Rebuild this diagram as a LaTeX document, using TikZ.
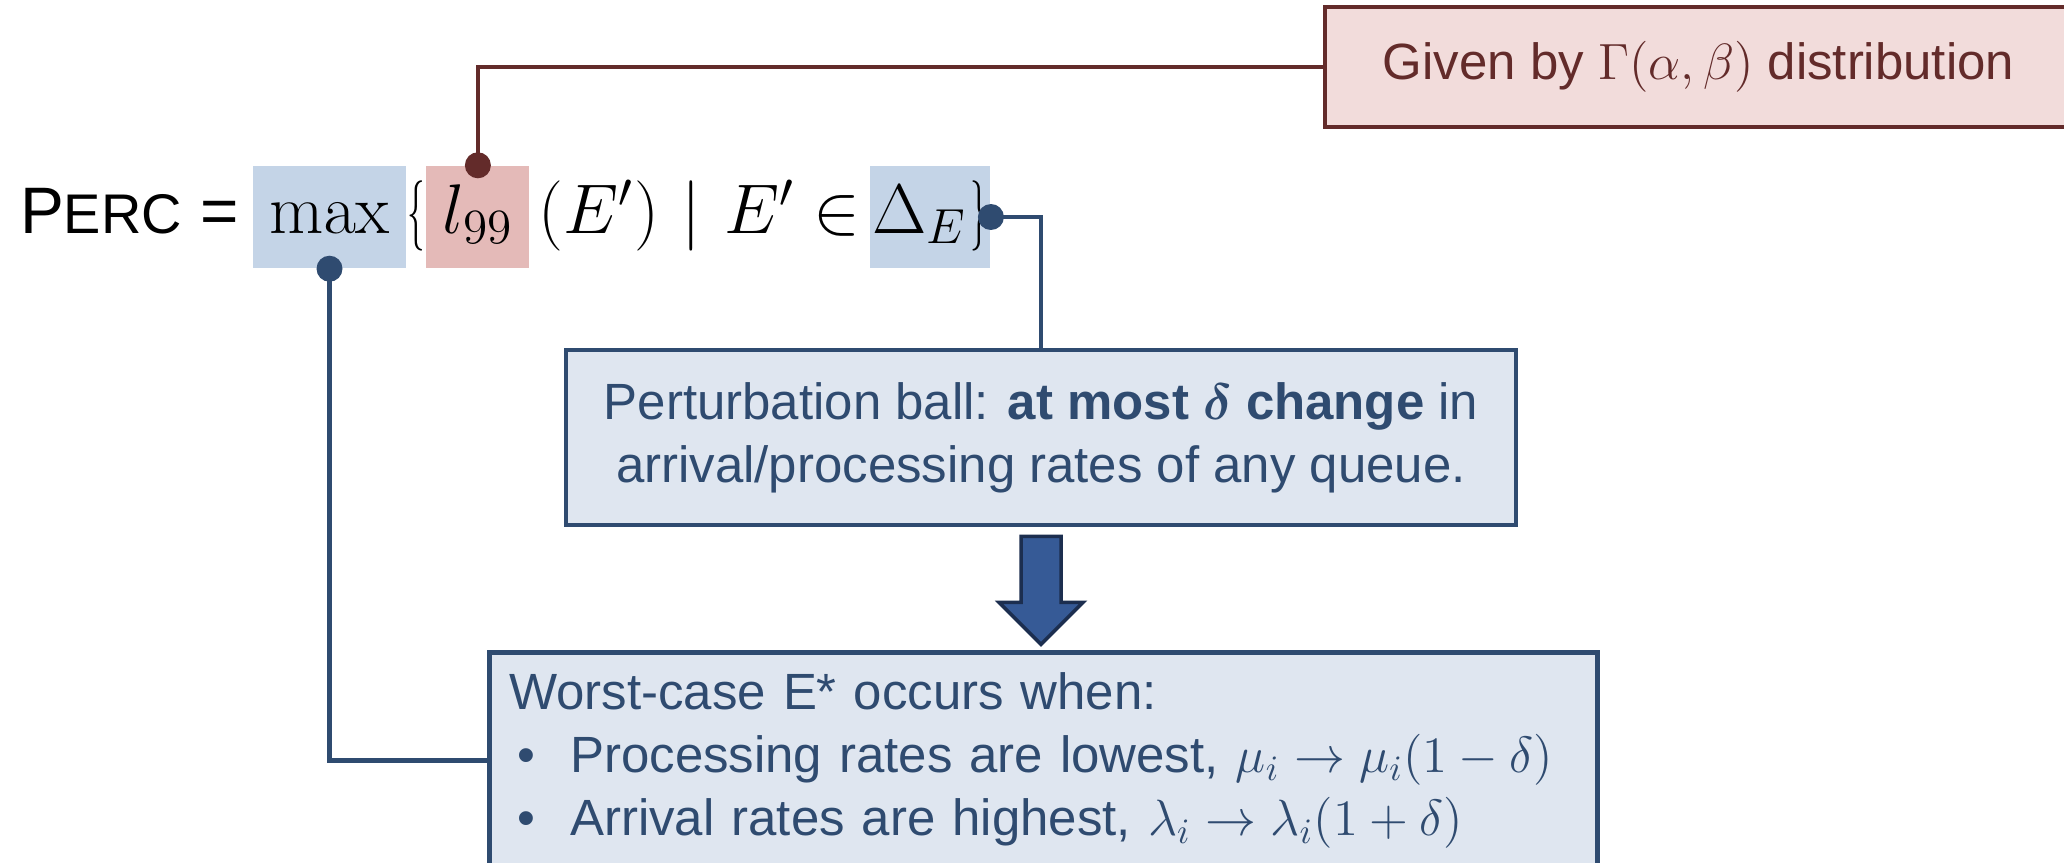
\RequirePackage{fix-cm}
\documentclass[tikz,border=0pt]{standalone}
\usepackage{amsmath}
\usepackage{graphicx}
\usepackage[no-math]{fontspec}
\setmainfont{Liberation Sans}
\usepackage{xcolor}
\usepackage{tikz}
\usetikzlibrary{positioning}

\definecolor{navy}{HTML}{2F4B70}
\definecolor{boxblue}{HTML}{DFE6F0}
\definecolor{markblue}{HTML}{C4D4E7}
\definecolor{markred}{HTML}{E4BAB8}
\definecolor{wine}{HTML}{632B2A}
\definecolor{boxred}{HTML}{F2DCDB}
\definecolor{arrowblue}{HTML}{365A96}
\definecolor{arrowedge}{HTML}{1C2E4F}

\newcommand{\itemdot}{\makebox[0.61cm][l]{\hspace{0.08cm}\textbullet}}
\newcommand{\slimbrace}[1]{\scalebox{0.5}[1]{$#1$}}

\begin{document}
\begin{tikzpicture}[
    formula/.style={inner xsep=0pt, inner ysep=0.05cm, text height=0.62cm, text depth=0.30cm, font=\fontsize{20}{24}\selectfont},
    bluemark/.style={formula, fill=markblue, minimum width=#1},
    redmark/.style={formula, fill=markred, minimum width=#1},
    bluebox/.style={draw=navy, line width=1.3pt, fill=boxblue, text=navy, font=\fontsize{14.5}{18}\selectfont},
    redbox/.style={draw=wine, line width=1.3pt, fill=boxred, text=wine, font=\fontsize{14.5}{18}\selectfont, minimum width=7.47cm, minimum height=1.2cm},
    blueline/.style={draw=navy, line width=1.2pt},
    redline/.style={draw=wine, line width=1.2pt},
    fatarrow/.style={draw=arrowedge, line width=1pt, fill=arrowblue, line join=miter}
]
\path[use as bounding box, fill=white] (0,0) rectangle (20.64,-8.62);
\clip (0,0) rectangle (20.64,-8.62);

\node[bluemark=1.53cm] (max) at (3.295,-2.17) {$\max$};
\node[formula, right=0pt of max] (open) {\slimbrace{\{}};
\node[redmark=1.03cm, right=0pt of open] (lnn) {$l_{99}$};
\node[formula, minimum width=3.38cm, right=0pt of lnn] (cond) {\makebox[3.22cm][l]{$(E')$\hfill$\mid$\hfill$E'\in$}};
\node[bluemark=1.2cm, right=0pt of cond] (delta) {\makebox[1.16cm][l]{$\Delta_E$\hfill\slimbrace{\}}}};
\node[formula, anchor=east, font=\fontsize{18.7}{22}\selectfont] (perc) at ([xshift=-0.13cm]max.west) {P{\fontsize{15.9}{18}\selectfont ERC} =};

\node[redbox] (given) at (16.985,-0.67) {Given by $\Gamma(\alpha,\beta)$ distribution};
\node[bluebox, minimum width=9.5cm, minimum height=1.75cm, align=center] (pert) at (10.41,-4.375) {Perturbation ball: \textbf{at most $\boldsymbol{\delta}$ change} in\\arrival/processing rates of any queue.};
\node[bluebox, anchor=north west, text width=10.68cm, inner sep=0.2cm, align=left] (worst) at (4.87,-6.50) {Worst-case E* occurs when:\\
\itemdot Processing rates are lowest, $\mu_i \rightarrow \mu_i(1-\delta)$\\
\itemdot Arrival rates are highest, $\lambda_i \rightarrow \lambda_i(1+\delta)$};

\draw[redline] (lnn.north) |- (given.west);
\draw[blueline] (delta.east) -| (pert.north);
\draw[blueline] (max.south) |- (worst.west);
\fill[wine] (lnn.north) circle (0.13);
\fill[navy] (delta.east) circle (0.13);
\fill[navy] (max.south) circle (0.13);

\draw[fatarrow] ([xshift=-0.2cm, yshift=-0.09cm]pert.south) -- ++(0.4,0) -- ++(0,-0.66) -- ++(0.22,0) -- ++(-0.42,-0.42) -- ++(-0.42,0.42) -- ++(0.22,0) -- cycle;
\end{tikzpicture}
\end{document}
